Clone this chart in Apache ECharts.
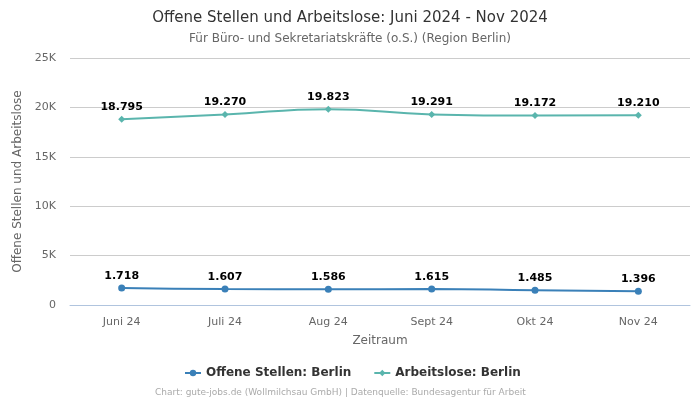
<!DOCTYPE html>
<html><head><meta charset="utf-8">
<script src="https://cdn.jsdelivr.net/npm/echarts@6/dist/echarts.min.js"></script>
<style>html,body{margin:0;padding:0;background:#fff}#c{width:700px;height:400px}</style>
</head><body><div id="c"></div>
<script>
var categories = ['Juni 24','Juli 24','Aug 24','Sept 24','Okt 24','Nov 24'];
var offeneStellen = [1718,1607,1586,1615,1485,1396];
var arbeitslose = [18795,19270,19823,19291,19172,19210];
var yTicks = [0,5000,10000,15000,20000,25000];

function fmt(v){ return v.toString().replace(/\B(?=(\d{3})+(?!\d))/g,'.'); }
var chart = echarts.init(document.getElementById('c'));
var font = 'DejaVu Sans';
chart.setOption({
  animation:false,
  textStyle:{fontFamily:font},
  title:{text:'Offene Stellen und Arbeitslose: Juni 2024 - Nov 2024',
    subtext:'Für Büro- und Sekretariatskräfte (o.S.) (Region Berlin)',
    left:'center', top:6, itemGap:7,
    textStyle:{fontSize:15,fontWeight:'normal',color:'#333',fontFamily:font},
    subtextStyle:{fontSize:12,color:'#666',fontFamily:font}},
  legend:{bottom:16,left:179,itemGap:22,itemWidth:16,itemHeight:8,
    textStyle:{fontSize:12,fontWeight:'bold',color:'#333',fontFamily:font},
    data:['Offene Stellen: Berlin','Arbeitslose: Berlin']},
  graphic:[{type:'text',left:155,bottom:3,style:{text:'Chart: gute-jobs.de (Wollmilchsau GmbH) | Datenquelle: Bundesagentur für Arbeit',fill:'#aaa',fontSize:9,fontFamily:font}}],
  grid:{left:70,right:10,top:58,bottom:95},
  xAxis:{type:'category',data:categories,name:'Zeitraum',nameLocation:'middle',nameGap:30,
    nameTextStyle:{color:'#666',fontSize:12},
    axisLine:{lineStyle:{color:'#b0c4de'}},axisTick:{show:false},
    axisLabel:{color:'#666',fontSize:11,margin:12}},
  yAxis:{type:'value',min:0,max:25000,interval:5000,name:'Offene Stellen und Arbeitslose',
    nameLocation:'middle',nameGap:43,nameTextStyle:{color:'#666',fontSize:12},
    axisLabel:{color:'#666',fontSize:11,margin:14,formatter:function(v){return v===0?'0':(v/1000)+'K';}},
    splitLine:{lineStyle:{color:'#ccc'}}},
  series:[
    {name:'Offene Stellen: Berlin',type:'line',smooth:true,data:offeneStellen,
      symbol:'circle',symbolSize:7,color:'#3a80b8',lineStyle:{width:2},
      label:{show:true,position:'top',distance:3,fontWeight:'bold',fontSize:11,color:'#000',formatter:function(p){return fmt(p.value);}}},
    {name:'Arbeitslose: Berlin',type:'line',smooth:true,data:arbeitslose,
      symbol:'diamond',symbolSize:7,color:'#5ab5ad',lineStyle:{width:2},
      label:{show:true,position:'top',distance:3,fontWeight:'bold',fontSize:11,color:'#000',formatter:function(p){return fmt(p.value);}}}
  ]
});
</script></body></html>
